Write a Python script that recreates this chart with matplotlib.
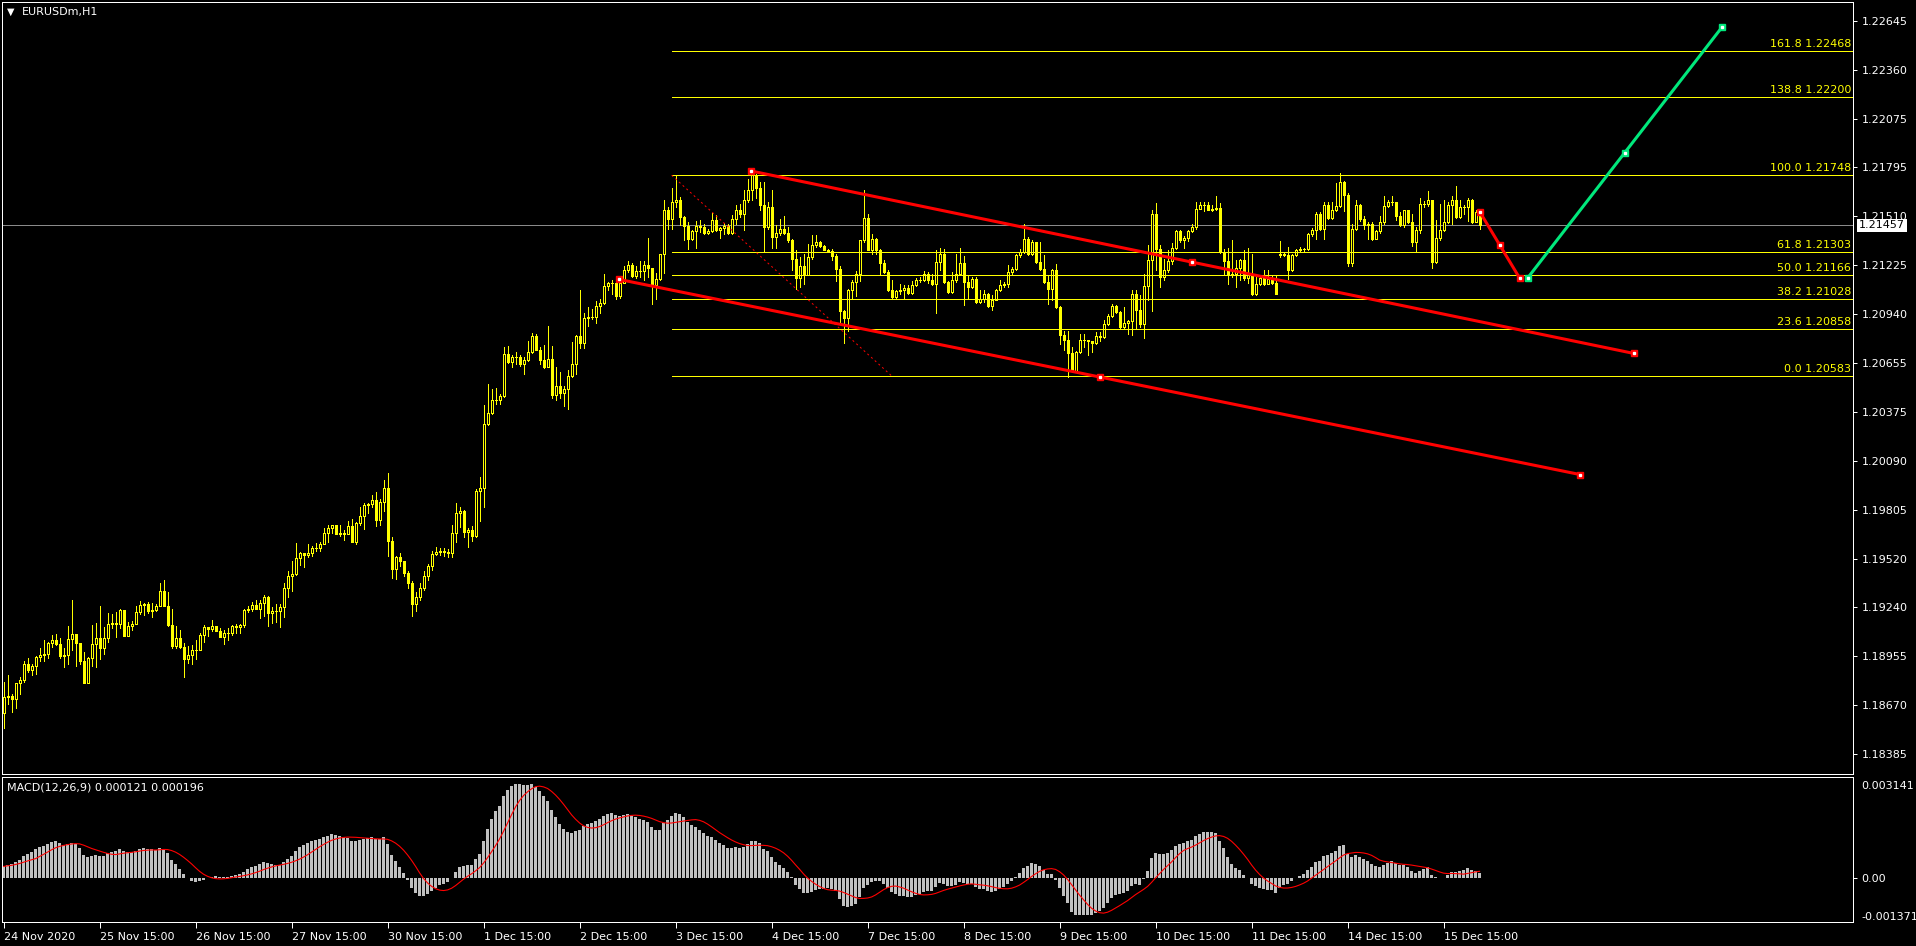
import numpy as np
import pandas as pd
import matplotlib
matplotlib.use('Agg')
import matplotlib.pyplot as plt
from matplotlib.patches import Rectangle
from matplotlib.collections import PatchCollection
import matplotlib.transforms as mtrans

W, H = 1916, 946

# EURUSDm H1, prices in points: price = 1 + pts/100000, bar 0 = 24 Nov 15:00
close_pts = [
    18719, 18724, 18709, 18798, 18817, 18909, 18876, 18899, 18951, 18961,
    18967, 19033, 19048, 19025, 18957, 18963, 19054, 19083, 19029, 18928,
    18802, 18943, 19025, 19060, 19000, 19060, 19143, 19145, 19143, 19224,
    19075, 19129, 19143, 19211, 19252, 19257, 19219, 19224, 19248, 19335,
    19244, 19137, 19015, 19062, 19011, 18940, 18961, 18992, 18992, 19079,
    19122, 19112, 19131, 19102, 19069, 19087, 19091, 19128, 19126, 19135,
    19224, 19228, 19254, 19230, 19263, 19300, 19207, 19215, 19215, 19238,
    19350, 19422, 19432, 19525, 19554, 19544, 19556, 19585, 19581, 19606,
    19670, 19699, 19715, 19662, 19668, 19664, 19711, 19616, 19726, 19771,
    19835, 19837, 19862, 19748, 19852, 19932, 19622, 19461, 19533, 19505,
    19440, 19380, 19260, 19300, 19350, 19420, 19480, 19548, 19562, 19564,
    19558, 19552, 19668, 19784, 19800, 19674, 19688, 19655, 19912, 19932,
    20304, 20370, 20440, 20445, 20465, 20711, 20662, 20691, 20691, 20653,
    20676, 20724, 20815, 20736, 20676, 20637, 20682, 20469, 20525, 20482,
    20509, 20585, 20653, 20815, 20773, 20920, 20926, 20924, 20988, 21007,
    21106, 21124, 21124, 21044, 21124, 21195, 21228, 21160, 21190, 21191,
    21224, 21209, 21108, 21147, 21288, 21548, 21496, 21593, 21606, 21505,
    21451, 21380, 21424, 21451, 21447, 21412, 21424, 21490, 21428, 21444,
    21455, 21412, 21496, 21548, 21525, 21602, 21664, 21748, 21676, 21573,
    21447, 21564, 21389, 21412, 21434, 21412, 21370, 21263, 21153, 21219,
    21166, 21273, 21345, 21358, 21335, 21316, 21308, 21277, 21205, 20959,
    20920, 21079, 21128, 21176, 21370, 21502, 21316, 21380, 21312, 21238,
    21186, 21079, 21040, 21073, 21079, 21095, 21064, 21108, 21137, 21141,
    21176, 21141, 21114, 21244, 21288, 21128, 21068, 21137, 21176, 21238,
    21128, 21099, 21147, 21011, 21031, 21060, 20988, 21025, 21083, 21108,
    21118, 21186, 21205, 21283, 21302, 21380, 21288, 21360, 21244, 21205,
    21128, 21089, 21199, 20982, 20823, 20789, 20715, 20610, 20721, 20792,
    20789, 20783, 20773, 20812, 20808, 20882, 20928, 20986, 20953, 20866,
    20889, 20901, 21056, 20963, 20885, 21102, 21254, 21521, 21321, 21157,
    21195, 21248, 21327, 21424, 21370, 21385, 21424, 21447, 21554, 21573,
    21573, 21548, 21550, 21560, 21302, 21250, 21166, 21172, 21211, 21254,
    21153, 21166, 21056, 21118, 21153, 21114, 21147, 21122, 21056, 21292,
    21287, 21199, 21283, 21312, 21321, 21320, 21405, 21428, 21525, 21438,
    21573, 21502, 21548, 21567, 21709, 21632, 21238, 21438, 21573, 21496,
    21457, 21467, 21380, 21424, 21476, 21567, 21593, 21595, 21509, 21457,
    21544, 21476, 21360, 21428, 21583, 21583, 21602, 21244, 21385, 21432,
    21476, 21573, 21606, 21506, 21564, 21564, 21602, 21476, 21535, 21457,
]
high_pts = [
    18808, 18847, 18734, 18802, 18835, 18928, 18943, 18912, 18957, 19002,
    19048, 19038, 19079, 19083, 19060, 19002, 19129, 19281, 19083, 19033,
    18978, 18951, 19137, 19145, 19248, 19122, 19207, 19199, 19211, 19230,
    19224, 19151, 19160, 19248, 19275, 19265, 19269, 19265, 19257, 19378,
    19397, 19329, 19232, 19131, 19108, 19033, 19015, 19021, 19048, 19087,
    19137, 19126, 19164, 19131, 19118, 19106, 19118, 19135, 19141, 19141,
    19230, 19244, 19271, 19283, 19281, 19312, 19306, 19242, 19257, 19257,
    19378, 19451, 19505, 19610, 19558, 19556, 19606, 19597, 19612, 19620,
    19699, 19719, 19719, 19715, 19719, 19688, 19738, 19754, 19732, 19823,
    19843, 19843, 19893, 19910, 19868, 19980, 20021, 19645, 19538, 19555,
    19510, 19450, 19390, 19330, 19380, 19450, 19490, 19567, 19587, 19583,
    19583, 19577, 19719, 19845, 19819, 19806, 19699, 19709, 19926, 19998,
    20411, 20536, 20507, 20513, 20478, 20750, 20759, 20707, 20719, 20707,
    20692, 20784, 20831, 20827, 20750, 20765, 20870, 20754, 20633, 20606,
    20527, 20618, 20779, 20823, 21079, 20949, 20982, 20972, 21017, 21031,
    21176, 21128, 21137, 21137, 21157, 21219, 21248, 21238, 21219, 21248,
    21248, 21385, 21211, 21180, 21292, 21606, 21564, 21676, 21746, 21622,
    21509, 21476, 21428, 21480, 21490, 21467, 21438, 21529, 21515, 21447,
    21471, 21467, 21515, 21573, 21583, 21661, 21728, 21757, 21757, 21709,
    21709, 21593, 21661, 21457, 21496, 21509, 21447, 21380, 21312, 21273,
    21288, 21350, 21399, 21399, 21364, 21340, 21320, 21321, 21288, 21219,
    20967, 21089, 21137, 21192, 21374, 21661, 21521, 21409, 21385, 21321,
    21254, 21199, 21137, 21079, 21118, 21108, 21108, 21133, 21153, 21155,
    21192, 21186, 21176, 21316, 21327, 21321, 21133, 21186, 21292, 21327,
    21277, 21166, 21157, 21157, 21079, 21079, 21064, 21050, 21089, 21137,
    21128, 21224, 21215, 21292, 21321, 21467, 21389, 21370, 21360, 21360,
    21283, 21166, 21205, 21230, 20986, 20843, 20843, 20750, 20726, 20827,
    20827, 20790, 20788, 20837, 20837, 20905, 20940, 20998, 20992, 20959,
    20982, 20909, 21079, 21079, 21050, 21176, 21341, 21544, 21587, 21341,
    21263, 21316, 21354, 21432, 21428, 21393, 21428, 21467, 21593, 21593,
    21593, 21593, 21573, 21626, 21587, 21321, 21327, 21370, 21254, 21263,
    21312, 21327, 21292, 21161, 21161, 21196, 21196, 21166, 21166, 21366,
    21302, 21331, 21289, 21321, 21331, 21327, 21412, 21442, 21535, 21535,
    21593, 21593, 21593, 21703, 21761, 21715, 21645, 21467, 21602, 21583,
    21509, 21477, 21477, 21428, 21509, 21626, 21606, 21626, 21593, 21535,
    21548, 21548, 21525, 21447, 21618, 21599, 21657, 21599, 21490, 21583,
    21602, 21593, 21626, 21684, 21602, 21573, 21618, 21612, 21545, 21545,
]
low_pts = [
    18540, 18676, 18633, 18657, 18734, 18808, 18866, 18845, 18854, 18928,
    18928, 18943, 19011, 19021, 18943, 18893, 18912, 18990, 18901, 18912,
    18802, 18802, 18901, 18893, 18936, 18967, 19040, 19118, 19064, 19118,
    19075, 19079, 19106, 19143, 19199, 19195, 19207, 19184, 19219, 19244,
    19244, 19131, 19005, 19005, 19003, 18835, 18916, 18912, 18938, 18990,
    19035, 19073, 19102, 19102, 19067, 19025, 19052, 19079, 19091, 19087,
    19122, 19211, 19219, 19228, 19176, 19190, 19129, 19145, 19151, 19122,
    19184, 19296, 19331, 19428, 19486, 19474, 19529, 19538, 19567, 19567,
    19616, 19616, 19670, 19662, 19653, 19629, 19664, 19616, 19606, 19719,
    19693, 19785, 19819, 19713, 19719, 19796, 19538, 19412, 19403, 19480,
    19420, 19350, 19190, 19220, 19280, 19340, 19400, 19455, 19544, 19544,
    19538, 19532, 19529, 19616, 19703, 19645, 19587, 19626, 19645, 19738,
    19823, 20300, 20362, 20420, 20420, 20463, 20657, 20633, 20653, 20643,
    20595, 20668, 20715, 20736, 20653, 20629, 20633, 20455, 20440, 20455,
    20410, 20389, 20575, 20595, 20746, 20746, 20872, 20914, 20889, 20947,
    21002, 21079, 21056, 21031, 21037, 21122, 21186, 21156, 21153, 21157,
    21141, 21157, 21002, 21031, 21141, 21180, 21436, 21436, 21564, 21457,
    21370, 21319, 21370, 21325, 21418, 21405, 21405, 21418, 21424, 21385,
    21405, 21405, 21405, 21467, 21505, 21432, 21593, 21606, 21618, 21544,
    21308, 21438, 21327, 21327, 21399, 21405, 21360, 21195, 21089, 21099,
    21114, 21166, 21263, 21331, 21331, 21316, 21302, 21254, 21133, 20895,
    20773, 20843, 21037, 21044, 21133, 21360, 21312, 21292, 21292, 21166,
    21180, 21075, 21037, 21037, 21056, 21037, 21060, 21060, 21102, 21130,
    21133, 21122, 21108, 20947, 21195, 21122, 21064, 21064, 21128, 21166,
    20992, 21031, 21095, 21006, 21006, 21011, 20982, 20963, 21021, 21075,
    21099, 21099, 21176, 21195, 21273, 21296, 21283, 21283, 21238, 21199,
    21122, 21002, 21021, 20978, 20769, 20734, 20579, 20604, 20604, 20715,
    20750, 20707, 20721, 20769, 20788, 20804, 20876, 20924, 20947, 20856,
    20856, 20827, 20823, 20856, 20866, 20804, 21025, 20959, 21199, 21099,
    21137, 21186, 21234, 21321, 21360, 21327, 21366, 21418, 21438, 21554,
    21540, 21544, 21540, 21544, 21296, 21176, 21118, 21157, 21099, 21137,
    21137, 21122, 21050, 21050, 21108, 21108, 21114, 21118, 21056, 21273,
    21277, 21147, 21192, 21277, 21302, 21302, 21316, 21393, 21380, 21428,
    21380, 21496, 21496, 21540, 21564, 21540, 21219, 21219, 21428, 21483,
    21438, 21380, 21374, 21384, 21412, 21467, 21564, 21573, 21486, 21451,
    21448, 21470, 21335, 21308, 21412, 21564, 21568, 21211, 21238, 21374,
    21424, 21470, 21463, 21502, 21502, 21521, 21482, 21470, 21476, 21438,
]
# opens follow the previous close except where the chart shows a gap
gap_open_pts = {0: 18628, 319: 21285}

# EMA state before the first bar (read from where the MACD starts)
ema12_seed = 1.18620
ema26_seed = 1.18590

price_ticks = [1.22645, 1.22360, 1.22075, 1.21795, 1.21510, 1.21225, 1.20940, 1.20655,
               1.20375, 1.20090, 1.19805, 1.19520, 1.19240, 1.18955, 1.18670, 1.18385]
date_labels = ['24 Nov 2020', '25 Nov 15:00', '26 Nov 15:00', '27 Nov 15:00', '30 Nov 15:00',
               '1 Dec 15:00', '2 Dec 15:00', '3 Dec 15:00', '4 Dec 15:00', '7 Dec 15:00',
               '8 Dec 15:00', '9 Dec 15:00', '10 Dec 15:00', '11 Dec 15:00', '14 Dec 15:00',
               '15 Dec 15:00']
date_bars = [24 * k for k in range(len(date_labels))]
last_price = 1.21457

fib_names = ['0.0', '23.6', '38.2', '50.0', '61.8', '100.0', '138.8', '161.8']
fib_prices = [1.20583, 1.20858, 1.21028, 1.21166, 1.21303, 1.21748, 1.22200, 1.22468]
fib_base_bars = [167, 222]
fib_base_prices = [1.21748, 1.20583]

upper_bars = [186.8, 407.6]
upper_prices = [1.21773, 1.20713]
lower_bars = [153.9, 394.1]
lower_prices = [1.21143, 1.20010]
down_bars = [369, 379]
down_prices = [1.21537, 1.21151]
up_bars = [381, 429.6]
up_prices = [1.21151, 1.22608]

macd_ticks = [0.003141, 0.0, -0.001371]
macd_tick_labels = ['0.003141', '0.00', '-0.001371']

# ---- data prep
close = 1 + np.array(close_pts) / 1e5
high = 1 + np.array(high_pts) / 1e5
low = 1 + np.array(low_pts) / 1e5
opn = np.r_[close[0], close[:-1]]
for k, v in gap_open_pts.items():
    opn[k] = 1 + v / 1e5
high = np.maximum(high, np.maximum(opn, close))
low = np.minimum(low, np.minimum(opn, close))
idx = np.arange(len(close))


def ema(vals, span, seed):
    a = 2.0 / (span + 1)
    out = []
    prev = seed
    for v in vals:
        prev = prev + a * (v - prev)
        out.append(prev)
    return np.array(out)


macd = ema(close, 12, ema12_seed) - ema(close, 26, ema26_seed)
signal = pd.Series(macd).rolling(9, min_periods=1).mean().values

# ---- figure
PX = 0.72  # one pixel in points at dpi 100
fig = plt.figure(figsize=(W / 100, H / 100), dpi=100, facecolor='black')
ax = fig.add_axes([2 / W, (H - 774) / H, 1851 / W, 772 / H], facecolor='black')
ax2 = fig.add_axes([2 / W, (H - 922) / H, 1851 / W, 145 / H], facecolor='black', sharex=ax)

ax.set_xlim(-0.4, 462.35)
ax.set_ylim(1.18271, 1.22754)
ax2.set_ylim(-0.001371, 0.003141)

for a in (ax, ax2):
    for s in a.spines.values():
        s.set_color('white')
        s.set_linewidth(PX)

# current price line
ax.axhline(last_price, color='#8a8a8a', lw=PX, zorder=1)

# candles
ax.vlines(idx, low, high, colors='#ffff00', lw=PX, zorder=2, antialiased=False)
bw = 0.5
rects = []
fcs = []
for i in idx:
    lo_b = min(opn[i], close[i])
    hgt = abs(close[i] - opn[i])
    rects.append(Rectangle((i - bw / 2, lo_b), bw, hgt))
    fcs.append('black' if close[i] > opn[i] else '#ffff00')
pc = PatchCollection(rects, facecolors=fcs, edgecolors='#ffff00', linewidths=PX,
                     zorder=3, antialiased=False)
ax.add_collection(pc)

# fibonacci levels
lab_tr = mtrans.offset_copy(ax.get_yaxis_transform(), fig=fig, x=-2, y=2, units='dots')
for name, p in zip(fib_names, fib_prices):
    ax.plot([fib_base_bars[0], 470], [p, p], color='#ffff00', lw=PX, zorder=4)
    ax.text(1.0, p, '%s %.5f' % (name, p), transform=lab_tr, ha='right', va='bottom',
            color='#ffff00', fontsize=8, zorder=6)
ax.plot(fib_base_bars, fib_base_prices, color='red', lw=PX, ls=(0, (2, 3)), zorder=4)

# trend lines and projection
for bx, by, col in [(upper_bars, upper_prices, 'red'), (lower_bars, lower_prices, 'red'),
                    (down_bars, down_prices, 'red'), (up_bars, up_prices, '#00e87c')]:
    ax.plot(bx, by, color=col, lw=2.2, zorder=5, solid_capstyle='butt')
    mx = [bx[0], (bx[0] + bx[1]) / 2, bx[1]]
    my = [by[0], (by[0] + by[1]) / 2, by[1]]
    ax.plot(mx, my, 's', ms=5, mfc=col, mec=col, zorder=6)
    ax.plot(mx, my, 's', ms=1.4, mfc='white', mec='white', zorder=7)

# axis ticks main
ax.yaxis.tick_right()
ax.set_yticks(price_ticks)
ax.set_yticklabels(['%.5f' % p for p in price_ticks])
ax.tick_params(axis='y', colors='white', labelcolor='white', labelsize=8,
               length=3, width=PX, pad=3)
ax.tick_params(axis='x', bottom=False, labelbottom=False)

# current price tag
tag_tr = mtrans.offset_copy(ax.get_yaxis_transform(), fig=fig, x=6, y=0, units='dots')
ax.text(1.0, last_price, '%.5f' % last_price, transform=tag_tr, ha='left', va='center',
        color='black', fontsize=8, zorder=10, clip_on=False,
        bbox=dict(boxstyle='square,pad=0.15', fc='white', ec='none'))

# MACD panel
ax2.bar(idx, macd, width=0.72, color='#c0c0c0', zorder=2, antialiased=False)
ax2.plot(idx, signal, color='red', lw=0.8, zorder=3)
ax2.yaxis.tick_right()
ax2.set_yticks(macd_ticks)
ax2.set_yticklabels(macd_tick_labels)
ax2.tick_params(axis='y', colors='white', labelcolor='white', labelsize=8,
                length=3, width=PX, pad=3)
lbls = ax2.get_yticklabels()
lbls[0].set_va('top')
lbls[0].set_transform(lbls[0].get_transform() +
                      mtrans.ScaledTranslation(0, -4 / 100, fig.dpi_scale_trans))
lbls[2].set_va('bottom')
ticks = ax2.yaxis.get_major_ticks()
ticks[0].tick2line.set_visible(False)
ticks[2].tick2line.set_visible(False)

ax2.set_xticks(date_bars)
ax2.set_xticklabels(date_labels)
ax2.tick_params(axis='x', colors='white', labelcolor='white', labelsize=8,
                length=4, width=PX, pad=3)
for l in ax2.get_xticklabels():
    l.set_ha('left')

ax2.text(5 / 1851, 1 - 10 / 145, 'MACD(12,26,9) 0.000121 0.000196', transform=ax2.transAxes,
         color='white', fontsize=8, va='center', ha='left')

# symbol title
fig.text(7 / W, 1 - 12 / H, '\u25bc', color='white', fontsize=7, va='center', ha='left')
fig.text(22 / W, 1 - 12 / H, 'EURUSDm,H1', color='white', fontsize=8, va='center', ha='left')

fig.savefig('out.png', dpi=100, facecolor='black')
